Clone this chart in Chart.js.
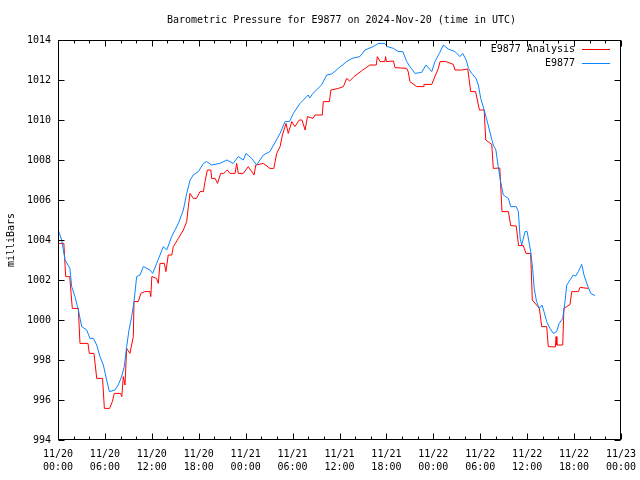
<!DOCTYPE html>
<html><head><meta charset="utf-8">
<script src="https://cdn.jsdelivr.net/npm/chart.js@4/dist/chart.umd.min.js"></script>
<style>html,body{margin:0;padding:0;background:#fff}</style>
</head><body>
<canvas id="c" width="640" height="480"></canvas>
<script>
const titleText = 'Barometric Pressure for E9877 on 2024-Nov-20 (time in UTC)';
const yAxisTitle = 'milliBars';
const seriesNames = ['E9877 Analysis', 'E9877'];
const seriesColors = ['#ff0000', '#0a84ff'];
const xTickLabels = [
  ['11/20','00:00'],['11/20','06:00'],['11/20','12:00'],['11/20','18:00'],
  ['11/21','00:00'],['11/21','06:00'],['11/21','12:00'],['11/21','18:00'],
  ['11/22','00:00'],['11/22','06:00'],['11/22','12:00'],['11/22','18:00'],
  ['11/23','00:00']
];
const yTickValues = [994, 996, 998, 1000, 1002, 1004, 1006, 1008, 1010, 1012, 1014];

// hours since 11/20 00:00 UTC
const analysisHours = [0,0.75,0.98,1.5,1.83,2.6,2.81,3.84,4.0,4.6,4.95,5.7,5.93,6.6,6.95,7.2,8.0,8.16,8.35,8.57,8.78,9.2,9.63,9.72,10.27,10.6,11.1,11.75,11.87,12.0,12.6,12.83,13.04,13.6,13.8,14.1,14.55,14.75,15.39,16.03,16.46,16.67,16.88,17.3,17.7,18.16,18.6,18.8,19.1,19.55,19.65,20.1,20.4,20.8,21.2,21.65,22.0,22.64,22.85,23.06,23.7,24.34,25.07,25.3,26.26,27.1,27.6,27.97,28.4,28.7,29.16,29.45,29.9,30.3,30.86,31.2,31.6,31.9,32.6,32.87,33.8,33.93,34.7,34.9,35.85,36.5,36.92,37.3,37.86,38.97,39.9,40.7,40.84,41.2,41.8,41.9,42.0,42.9,43.1,44.6,44.8,45.0,45.87,46.7,46.8,47.8,48.1,48.64,48.86,49.6,50.56,50.77,51.6,52.4,52.78,53.4,53.9,54.5,54.7,55.47,55.67,56.5,56.78,57.6,57.9,58.6,58.9,59.5,59.85,60.45,60.66,61.2,61.56,61.86,62.5,62.7,63.6,63.7,63.8,64.55,64.7,65.48,65.7,66.55,66.76,67.8];
const analysisValues = [1003.83,1003.83,1002.17,1002.17,1000.58,1000.58,998.83,998.83,998.33,998.33,997.08,997.08,995.58,995.58,995.92,996.33,996.33,996.17,997.17,996.75,998.58,998.33,999.17,1000.92,1000.92,1001.33,1001.42,1001.42,1001.17,1002.17,1002.08,1001.83,1002.83,1002.83,1002.42,1003.25,1003.25,1003.67,1004.08,1004.5,1004.92,1005.67,1006.33,1006.08,1006.08,1006.42,1006.42,1006.92,1007.5,1007.5,1007.08,1007.08,1006.83,1007.33,1007.33,1007.5,1007.33,1007.33,1007.83,1007.33,1007.33,1007.67,1007.25,1007.75,1007.83,1007.58,1007.58,1008.33,1008.67,1009.25,1009.83,1009.33,1009.92,1009.67,1010.0,1010.0,1009.5,1010.17,1010.08,1010.25,1010.25,1010.92,1010.92,1011.5,1011.58,1011.67,1012.08,1011.95,1012.17,1012.5,1012.75,1012.75,1013.17,1012.92,1012.92,1013.17,1012.92,1012.95,1012.62,1012.58,1012.4,1011.92,1011.67,1011.67,1011.78,1011.78,1012.08,1012.58,1012.92,1012.92,1012.78,1012.5,1012.5,1012.55,1011.42,1011.42,1010.5,1010.5,1009.0,1008.78,1007.58,1007.6,1005.42,1005.42,1004.72,1004.7,1003.72,1003.72,1003.33,1003.33,1001.0,1000.75,1000.58,999.67,999.67,998.67,998.65,999.17,998.75,998.75,1000.58,1000.78,1001.42,1001.42,1001.63,1001.58];

const stationHours = [0,0.47,0.9,1.53,1.75,2.17,2.6,3.03,3.67,4.09,4.52,4.95,5.37,5.8,6.22,6.57,7.29,7.7,8.14,8.48,8.78,9.08,9.42,9.72,10.06,10.49,10.91,11.77,12.1,12.62,13.47,13.9,14.54,15.39,16.03,16.46,16.9,17.3,17.95,18.6,19.0,19.65,20.7,21.6,22.4,23.06,23.7,24.04,24.77,25.4,26.26,27.1,28.4,29.03,29.6,30.1,30.95,32.0,32.2,32.6,33.7,34.36,35.0,35.85,36.9,37.6,38.6,39.26,40.3,40.97,41.8,42.1,42.9,43.5,44.1,44.6,45.0,45.66,46.5,47.06,47.8,48.2,48.77,49.3,49.9,50.77,51.4,51.76,52.2,52.5,52.9,53.46,53.76,54.06,54.5,54.8,55.33,55.67,56.0,56.3,56.6,56.95,57.6,57.9,58.6,58.87,59.1,59.3,59.73,60.0,60.45,60.7,60.9,61.2,61.56,61.9,62.15,62.5,62.92,63.35,63.77,64.1,64.55,64.84,65.06,65.48,65.9,66.2,66.55,66.98,67.27,67.7,68.13,68.68];
const stationValues = [1004.53,1004.0,1003.0,1002.58,1001.67,1001.17,1000.5,999.67,999.5,999.08,999.08,998.75,998.17,997.75,997.0,996.42,996.5,996.75,997.17,997.67,998.67,999.5,1000.17,1000.92,1002.17,1002.25,1002.67,1002.5,1002.33,1002.83,1003.67,1003.5,1004.17,1004.83,1005.5,1006.33,1007.0,1007.25,1007.42,1007.83,1007.92,1007.75,1007.83,1008.0,1007.83,1008.17,1008.0,1008.33,1008.08,1007.75,1008.25,1008.42,1009.33,1009.92,1009.92,1010.33,1010.83,1011.25,1011.1,1011.33,1011.75,1012.25,1012.3,1012.58,1012.92,1013.08,1013.17,1013.5,1013.67,1013.83,1013.83,1013.67,1013.58,1013.42,1013.42,1012.92,1012.67,1012.33,1012.38,1012.75,1012.42,1012.92,1013.33,1013.75,1013.55,1013.42,1013.17,1013.33,1013.0,1012.58,1012.33,1012.08,1011.75,1011.08,1010.5,1010.08,1009.25,1008.75,1008.5,1007.67,1006.92,1006.25,1006.08,1005.67,1005.67,1005.42,1004.08,1003.75,1004.42,1004.42,1003.42,1002.58,1001.58,1000.92,1000.58,1000.75,1000.42,999.92,999.58,999.33,999.42,999.83,1000.08,1000.92,1001.75,1002.0,1002.25,1002.2,1002.42,1002.78,1002.25,1001.75,1001.33,1001.22];

const FONT = "'DejaVu Sans Mono', 'Liberation Mono', monospace";

const framePlugin = {
  id: 'frame',
  afterDraw(chart) {
    const ctx = chart.ctx;
    const a = chart.chartArea;
    const xs = chart.scales.x, ys = chart.scales.y;
    ctx.save();
    ctx.strokeStyle = '#000';
    ctx.lineWidth = 1;
    const L = Math.round(a.left) + 0.5, R = Math.round(a.right) - 0.5;
    const T = Math.round(a.top) + 0.5, B = Math.round(a.bottom) - 0.5;
    ctx.beginPath();
    // ticks on x (every 2 hours, longer every 6)
    for (let h = xs.min; h <= xs.max; h += 2) {
      const x = Math.round(xs.getPixelForValue(h)) + 0.5;
      const len = (h % 6 === 0) ? 6 : 3;
      ctx.moveTo(x, B); ctx.lineTo(x, B - len);
      ctx.moveTo(x, T); ctx.lineTo(x, T + len);
    }
    yTickValues.forEach(v => {
      const y = Math.round(ys.getPixelForValue(v)) + 0.5;
      ctx.moveTo(L, y); ctx.lineTo(L + 6, y);
      ctx.moveTo(R, y); ctx.lineTo(R - 6, y);
    });
    ctx.stroke();
    ctx.strokeRect(L, T, R - L, B - T);

    ctx.fillStyle = '#000';
    ctx.font = '10px ' + FONT;
    ctx.textAlign = 'center';
    ctx.textBaseline = 'middle';
    ctx.fillText(titleText, (a.left + a.right) / 2 + 2, 20);

    ctx.save();
    ctx.translate(11, (a.top + a.bottom) / 2);
    ctx.rotate(-Math.PI / 2);
    ctx.fillText(yAxisTitle, 0, 0);
    ctx.restore();

    // legend (text then sample line, gnuplot style)
    ctx.textAlign = 'right';
    chart.data.datasets.forEach((ds, i) => {
      const y = 49 + i * 14;
      ctx.fillStyle = '#000';
      ctx.fillText(ds.label, a.right - 46, y);
      ctx.strokeStyle = ds.borderColor;
      ctx.beginPath();
      ctx.moveTo(a.right - 39, y + 0.5);
      ctx.lineTo(a.right - 11, y + 0.5);
      ctx.stroke();
    });
    ctx.restore();
  }
};

const toPoints = (hs, vs) => hs.map((h, i) => ({x: h, y: vs[i]}));

new Chart(document.getElementById('c').getContext('2d'), {
  type: 'line',
  data: {
    datasets: [
      {label: seriesNames[0], data: toPoints(analysisHours, analysisValues), borderColor: seriesColors[0],
       borderWidth: 1, pointRadius: 0, fill: false, tension: 0, order: 1},
      {label: seriesNames[1], data: toPoints(stationHours, stationValues), borderColor: seriesColors[1],
       borderWidth: 1, pointRadius: 0, fill: false, tension: 0, order: 0}
    ]
  },
  options: {
    responsive: false,
    animation: false,
    events: [],
    layout: {padding: {top: 40, right: 19, bottom: 0, left: 0}},
    plugins: {legend: {display: false}, title: {display: false}, tooltip: {enabled: false}},
    scales: {
      x: {
        type: 'linear', min: 0, max: 72,
        grid: {display: false, drawTicks: false},
        border: {display: false},
        ticks: {stepSize: 6, autoSkip: false, maxRotation: 0, padding: 8, color: '#000',
          font: {family: FONT, size: 10, lineHeight: 1.3},
          callback: (v) => xTickLabels[Math.round(v / 6)]},
        afterFit: (s) => { s.height = 40; s.paddingLeft = 0; s.paddingRight = 0; }
      },
      y: {
        type: 'linear', min: 994, max: 1014,
        grid: {display: false, drawTicks: false},
        border: {display: false},
        ticks: {stepSize: 2, padding: 7, color: '#000', font: {family: FONT, size: 10},
          callback: (v) => String(v)},
        afterFit: (s) => { s.width = 58; s.paddingTop = 0; s.paddingBottom = 0; }
      }
    }
  },
  plugins: [framePlugin]
});
</script>
</body></html>
